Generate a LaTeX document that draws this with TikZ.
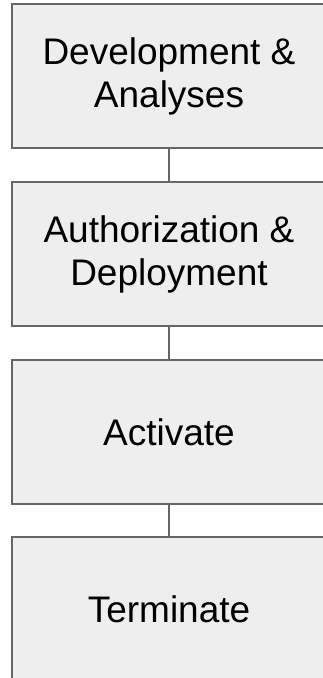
\documentclass[tikz,border=0pt]{standalone}
\usepackage{fontspec}
\setmainfont{Liberation Sans}
\definecolor{boxfill}{HTML}{EEEEEE}
\definecolor{boxline}{HTML}{666666}
\tikzset{
  phase/.style={draw=boxline, fill=boxfill, line width=1.5pt,
    minimum width=314pt, minimum height=144pt, align=center,
    font=\fontsize{37}{43}\selectfont},
}
\begin{document}
\begin{tikzpicture}[x=1pt,y=1pt]
      \useasboundingbox (0,0) rectangle (322,-678);
      \draw
        (169,-76) node[phase] (0){Development \&\\Analyses}
        (169,-254) node[phase] (1){Authorization \&\\Deployment}
        (169,-432) node[phase] (2){Activate}
        (169,-609) node[phase] (3){Terminate};
      \begin{scope}[-, draw=boxline, line width=1.5pt]
        \draw (0) to (1);
        \draw (1) to (2);
        \draw (2) to (3);
      \end{scope}
    \end{tikzpicture}
\end{document}
